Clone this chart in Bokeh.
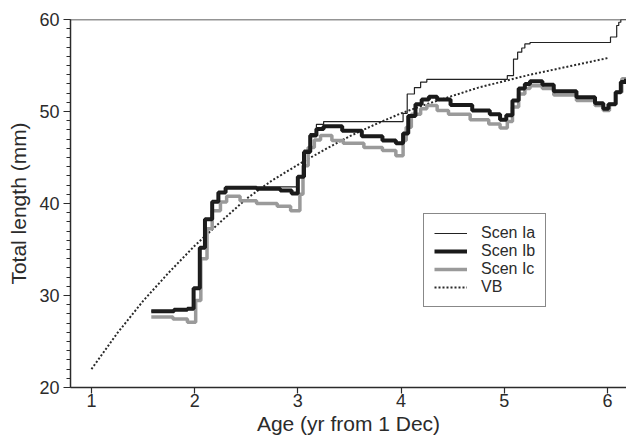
from bokeh.plotting import figure
from bokeh.models import (Range1d, Legend, LegendItem, Span, FixedTicker,
                          SingleIntervalTicker)
from bokeh.embed import file_html
from bokeh.resources import INLINE

# Growth trajectories: total length (mm) against age (yr from 1 Dec)
ia_age = [1.58, 1.80, 1.93, 1.99, 2.05, 2.10, 2.17, 2.23, 2.30, 3.00, 3.06,
          3.12, 3.18, 3.25, 4.02, 4.06, 4.13, 4.19, 4.25, 5.03, 5.09, 5.13,
          5.17, 5.20, 5.25, 6.03, 6.09, 6.11, 6.13, 6.18]
ia_len = [28.3, 28.45, 28.55, 30.8, 35.2, 38.3, 40.2, 41.2, 41.8, 43.0, 45.8,
          47.6, 48.6, 48.9, 49.8, 51.9, 52.6, 53.2, 53.5, 53.9, 55.7, 56.45,
          56.9, 57.35, 57.5, 58.1, 59.35, 59.7, 60.0, 60.0]

ib_age = [1.58, 1.80, 1.93, 1.99, 2.05, 2.10, 2.17, 2.23, 2.30, 2.60, 2.83,
          2.94, 3.00, 3.06, 3.12, 3.18, 3.25, 3.43, 3.62, 3.82, 3.95, 4.02,
          4.07, 4.14, 4.20, 4.27, 4.35, 4.48, 4.69, 4.86, 4.96, 5.02, 5.08,
          5.14, 5.20, 5.25, 5.37, 5.48, 5.70, 5.88, 5.96, 6.01, 6.08, 6.13,
          6.18]
ib_len = [28.3, 28.45, 28.55, 30.8, 35.2, 38.3, 40.2, 41.2, 41.7, 41.6, 41.4,
          41.1, 42.9, 45.6, 47.4, 48.1, 48.4, 47.9, 47.3, 46.85, 46.55, 47.6,
          49.5, 50.8, 51.3, 51.6, 51.3, 50.7, 50.1, 49.7, 49.1, 49.6, 51.2,
          52.5, 53.0, 53.3, 52.9, 52.2, 51.55, 50.9, 50.3, 50.8, 52.1, 53.2,
          53.55]

ic_age = [1.58, 1.79, 1.93, 2.01, 2.06, 2.12, 2.17, 2.25, 2.31, 2.44, 2.60,
          2.80, 2.93, 3.02, 3.05, 3.10, 3.16, 3.22, 3.33, 3.44, 3.64, 3.82,
          3.95, 4.02, 4.05, 4.10, 4.19, 4.25, 4.35, 4.46, 4.67, 4.85, 4.96,
          5.03, 5.08, 5.14, 5.20, 5.25, 5.37, 5.48, 5.70, 5.88, 5.96, 6.02,
          6.08, 6.14, 6.18]
ic_len = [27.65, 27.45, 27.1, 29.45, 34.0, 37.25, 39.2, 40.15, 40.8, 40.3,
          40.0, 39.7, 39.2, 41.0, 44.1, 46.1, 46.9, 47.4, 46.85, 46.55, 46.1,
          45.75, 45.2, 46.85, 48.3, 49.7, 50.3, 50.65, 50.1, 49.7, 49.1, 48.65,
          48.2, 48.9, 50.5, 51.9, 52.5, 52.8, 52.5, 51.8, 51.2, 50.65, 50.1,
          50.8, 52.1, 53.55, 53.55]

# von Bertalanffy growth curve
vb_age = [1.00, 1.25, 1.50, 1.75, 2.00, 2.25, 2.50, 2.75, 3.00, 3.25, 3.50,
          3.75, 4.00, 4.25, 4.50, 4.75, 5.00, 5.25, 5.50, 5.75, 6.00]
vb_len = [22.0, 25.9, 29.4, 32.5, 35.4, 38.0, 40.5, 42.5, 44.2, 45.8, 47.3,
          48.6, 49.8, 50.8, 51.7, 52.6, 53.3, 54.0, 54.6, 55.2, 55.8]

x_ticks = [1, 2, 3, 4, 5, 6]
legend_labels = ["Scen Ia", "Scen Ib", "Scen Ic", "VB"]

FONT = "Liberation Sans"
INK = "#2b2b2b"

p = figure(width=626, height=443, output_backend="svg", toolbar_location=None,
           x_range=Range1d(0.797, 6.185), y_range=Range1d(20, 60),
           min_border_left=70, min_border_right=0, min_border_top=19,
           min_border_bottom=56)
p.outline_line_color = None
p.grid.visible = False
p.background_fill_color = "white"
p.border_fill_color = "white"

p.xaxis.ticker = FixedTicker(ticks=x_ticks)
p.yaxis.ticker = SingleIntervalTicker(interval=10, num_minor_ticks=10)
p.xaxis.axis_label = "Age (yr from 1 Dec)"
p.yaxis.axis_label = "Total length (mm)"

for ax in (p.xaxis[0], p.yaxis[0]):
    ax.axis_line_color = INK
    ax.axis_line_width = 1.5
    ax.major_tick_line_color = INK
    ax.major_tick_line_width = 1.2
    ax.minor_tick_line_color = INK
    ax.minor_tick_line_width = 1.0
    ax.major_tick_in = 0
    ax.minor_tick_in = 0
    ax.major_label_text_font = FONT
    ax.major_label_text_font_size = "18px"
    ax.major_label_text_color = INK
    ax.axis_label_text_font = FONT
    ax.axis_label_text_font_size = "21px"
    ax.axis_label_text_font_style = "normal"
    ax.axis_label_text_color = INK

p.xaxis.major_tick_out = 6
p.xaxis.minor_tick_line_color = None
p.xaxis.major_label_standoff = 0
p.xaxis.axis_label_standoff = 2
p.yaxis.major_tick_out = 7
p.yaxis.minor_tick_out = 4
p.yaxis.major_label_standoff = 4
p.yaxis.axis_label_standoff = 6

# top frame edge
p.add_layout(Span(location=60, dimension="width", line_color=INK,
                  line_width=1.5))

vb = p.line(vb_age, vb_len, line_color="#2a2a2a", line_width=2,
            line_dash="2 2")
ic = p.step(ic_age, ic_len, mode="after", line_color="#9a9a9a", line_width=3.5)
ib = p.step(ib_age, ib_len, mode="after", line_color="#1a1a1a", line_width=4)
ia = p.step(ia_age, ia_len, mode="after", line_color="#222222", line_width=1.2)

legend = Legend(items=[LegendItem(label=legend_labels[0], renderers=[ia]),
                       LegendItem(label=legend_labels[1], renderers=[ib]),
                       LegendItem(label=legend_labels[2], renderers=[ic]),
                       LegendItem(label=legend_labels[3], renderers=[vb])],
                location=(353, 80))
legend.border_line_color = "#111111"
legend.border_line_width = 1
legend.background_fill_color = "white"
legend.background_fill_alpha = 1
legend.padding = 10
legend.spacing = 0
legend.margin = 0
legend.label_height = 16
legend.glyph_height = 16
legend.glyph_width = 33
legend.label_standoff = 14
legend.label_text_font = FONT
legend.label_text_font_size = "16px"
legend.label_text_color = INK
legend.label_text_line_height = 0.9
p.add_layout(legend)

open("out.html", "w").write(file_html(p, INLINE))
